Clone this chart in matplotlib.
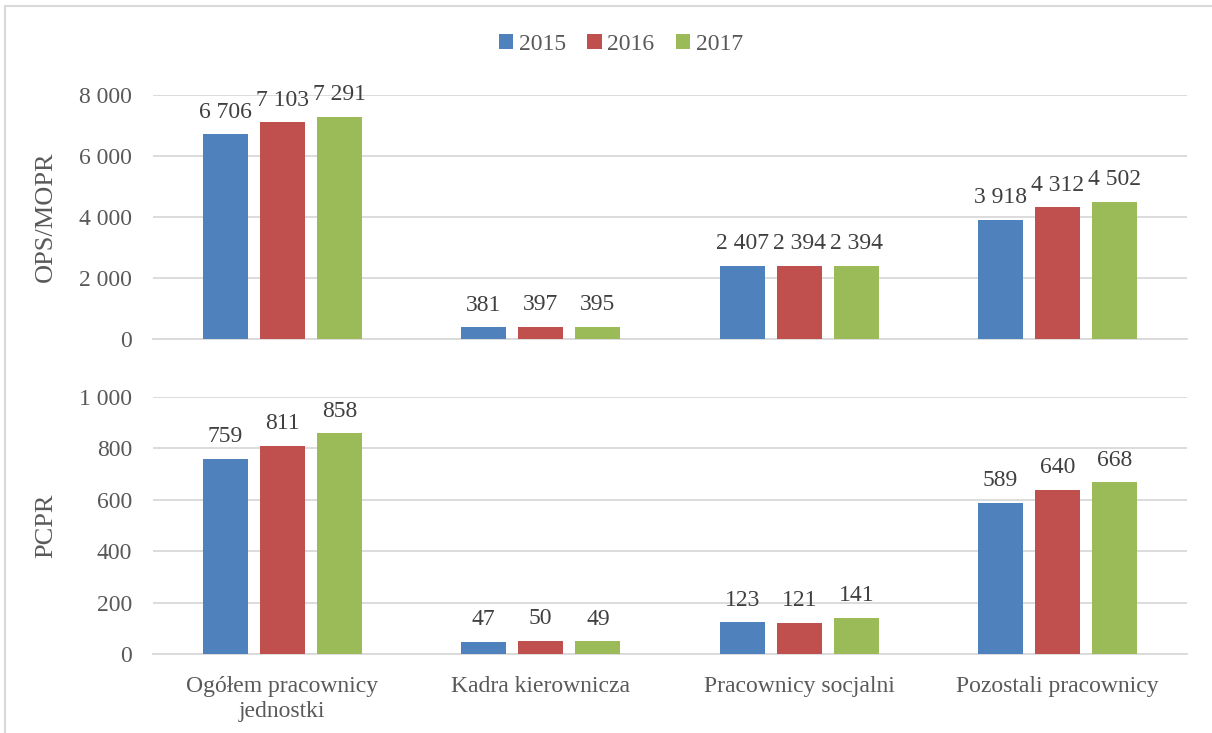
import numpy as np
import matplotlib
matplotlib.use("Agg")
import matplotlib.pyplot as plt
from matplotlib.patches import Rectangle, Patch

# Data
categories = ["Ogółem pracownicy\njednostki", "Kadra kierownicza",
              "Pracownicy socjalni", "Pozostali pracownicy"]
years = ["2015", "2016", "2017"]
ops_2015 = [6706, 381, 2407, 3918]
ops_2016 = [7103, 397, 2394, 4312]
ops_2017 = [7291, 395, 2394, 4502]
pcpr_2015 = [759, 47, 123, 589]
pcpr_2016 = [811, 50, 121, 640]
pcpr_2017 = [858, 49, 141, 668]
ops_ticks = [0, 2000, 4000, 6000, 8000]
pcpr_ticks = [0, 200, 400, 600, 800, 1000]

colors = ["#4F81BD", "#C0504D", "#9BBB59"]
TXT = "#404040"
GREY = "#595959"
GRID = "#D9D9D9"
FS = 17

plt.rcParams["font.family"] = ["Liberation Serif", "DejaVu Serif"]


def fmt(v):
    return "{:,}".format(v).replace(",", " ")


W, H = 1212, 733
fig = plt.figure(figsize=(W / 100, H / 100), dpi=100)

# outer chart frame (light gray)
fig.patches.append(Rectangle((5 / W, -0.1), 2.0, 1.1 - 6 / H, transform=fig.transFigure,
                             fill=False, edgecolor=GRID, linewidth=1.5))

left, right = 153 / W, 1187 / W
ax1 = fig.add_axes([left, 1 - 339 / H, right - left, (339 - 95) / H])
ax2 = fig.add_axes([left, 1 - 654 / H, right - left, (654 - 397) / H])

x = np.arange(len(categories))
bw = 0.175
offsets = [-0.221, 0.0, 0.221]


def draw(ax, series, ticks, ylabel):
    for i, vals in enumerate(series):
        bars = ax.bar(x + offsets[i], vals, bw, color=colors[i], zorder=3)
        for b, v in zip(bars, vals):
            ax.annotate(fmt(v), (b.get_x() + b.get_width() / 2, v),
                        xytext=(0, 12), textcoords="offset points",
                        ha="center", va="baseline", fontsize=FS, color=TXT)
    ax.set_xlim(-0.5, len(categories) - 0.5)
    ax.set_ylim(ticks[0], ticks[-1])
    ax.set_yticks(ticks)
    ax.set_yticklabels([fmt(t) for t in ticks])
    ax.yaxis.grid(True, color=GRID, linewidth=1.3, zorder=0)
    ax.tick_params(axis="y", length=0, pad=15, labelsize=FS, labelcolor=GREY)
    for s in ["top", "right", "left"]:
        ax.spines[s].set_visible(False)
    ax.spines["bottom"].set_color(GRID)
    ax.spines["bottom"].set_linewidth(1.3)
    ax.set_ylabel(ylabel, fontsize=19, color=GREY)
    ax.yaxis.set_label_coords(-0.093, 0.5)


draw(ax1, [ops_2015, ops_2016, ops_2017], ops_ticks, "OPS/MOPR")
draw(ax2, [pcpr_2015, pcpr_2016, pcpr_2017], pcpr_ticks, "PCPR")

ax1.set_xticks([])
ax2.set_xticks(x)
ax2.set_xticklabels(categories, fontsize=FS, color=GREY, linespacing=1.25)
ax2.tick_params(axis="x", length=0, pad=16)

handles = [Patch(facecolor=c, label=y) for c, y in zip(colors, years)]
fig.legend(handles=handles, loc="center", bbox_to_anchor=(621 / W, 1 - 44 / H), ncol=3,
           frameon=False, fontsize=FS, handlelength=0.6, handleheight=0.6,
           handletextpad=0.25, columnspacing=0.9, labelcolor=GREY)

fig.savefig("out.png", dpi=100)
